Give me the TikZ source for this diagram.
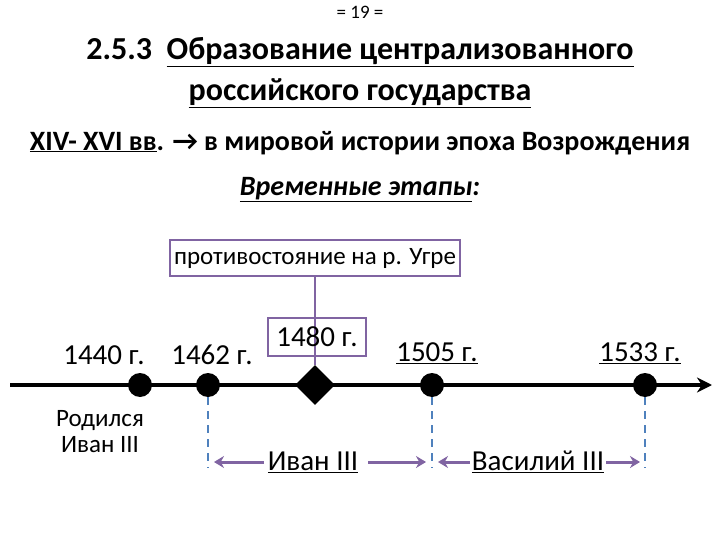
\documentclass[tikz,border=0pt]{standalone}
\usepackage{fontspec}
\setmainfont{Carlito}
\usetikzlibrary{arrows.meta,shapes.geometric}
\newcommand{\ul}[1]{\underline{#1}}
\definecolor{purp}{HTML}{8064A2}
\definecolor{dblue}{HTML}{4F81BD}
\begin{document}
\begin{tikzpicture}[x=1pt,y=-1pt,
  lbl/.style={font=\fontsize{29}{32}\selectfont,inner sep=1pt},
  dot/.style={circle,fill=black,minimum size=24pt,inner sep=0pt},
  dline/.style={dblue,line width=2pt,dash pattern=on 8pt off 6pt},
  parr/.style={purp,line width=3pt,-{Stealth[length=10pt,width=12pt]}}]
\useasboundingbox (0,0) rectangle (720,540);
\node (pg) at (360,12) {\fontsize{19}{21}\selectfont = 19 =};
\node (t1) at (360,52) {\fontsize{32}{36}\selectfont\bfseries 2.5.3\ \ \ul{Образование централизованного}};
\node (t2) at (360,93) {\fontsize{32}{36}\selectfont\bfseries \ul{российского государства}};
\node (t3) at (360,143) {\fontsize{28}{32}\selectfont\bfseries \ul{XIV- XVI вв}. → в мировой истории эпоха Возрождения};
\node (t4) at (360,190) {\fontsize{28}{32}\selectfont\bfseries\itshape \ul{Временные этапы}:};
\node[draw=purp,line width=2pt,minimum width=290pt,minimum height=36pt,font=\fontsize{25}{28}\selectfont] (ug) at (315,258) {противостояние на р. Угре};
\coordinate (a0) at (10,385);
\coordinate (a1) at (712,385);
\draw[line width=3.5pt,-{Stealth[length=15pt,width=15pt]}] (a0) -- (a1);
\node[dot] (d1) at (140,385) {};
\node[dot] (d2) at (208,385) {};
\node[dot] (d4) at (432,385) {};
\node[dot] (d5) at (645,385) {};
\node[diamond,fill=black,minimum size=40pt,inner sep=0pt,shape aspect=1] (dm) at (315,385) {};
\draw[purp,line width=2pt] (ug.south) -- (dm.north);
\node[lbl] (l1) at (104,355) {1440 г.};
\node[lbl] (l2) at (212,355) {1462 г.};
\node[lbl,draw=purp,line width=2pt,minimum width=98pt,minimum height=38pt] (l3) at (317,337) {1480 г.};
\node[lbl] (l4) at (437,353) {\ul{1505 г.}};
\node[lbl] (l5) at (640,353) {\ul{1533 г.}};
\node[align=center,font=\fontsize{25}{26}\selectfont] (r) at (100,432) {Родился\\Иван III};
\coordinate (e2) at (208,468);
\coordinate (e4) at (432,468);
\coordinate (e5) at (645,468);
\draw[dline] (d2) -- (e2);
\draw[dline] (d4) -- (e4);
\draw[dline] (d5) -- (e5);
\node[lbl] (iv) at (313,462) {\ul{Иван III}};
\node[lbl] (va) at (538,462) {\ul{Василий III}};
\coordinate (p1) at (264,462); \coordinate (p2) at (214,462);
\coordinate (p3) at (368,462); \coordinate (p4) at (426,462);
\coordinate (p5) at (470,462); \coordinate (p6) at (438,462);
\coordinate (p7) at (606,462); \coordinate (p8) at (640,462);
\draw[parr] (p1) -- (p2);
\draw[parr] (p3) -- (p4);
\draw[parr] (p5) -- (p6);
\draw[parr] (p7) -- (p8);
\end{tikzpicture}
\end{document}
